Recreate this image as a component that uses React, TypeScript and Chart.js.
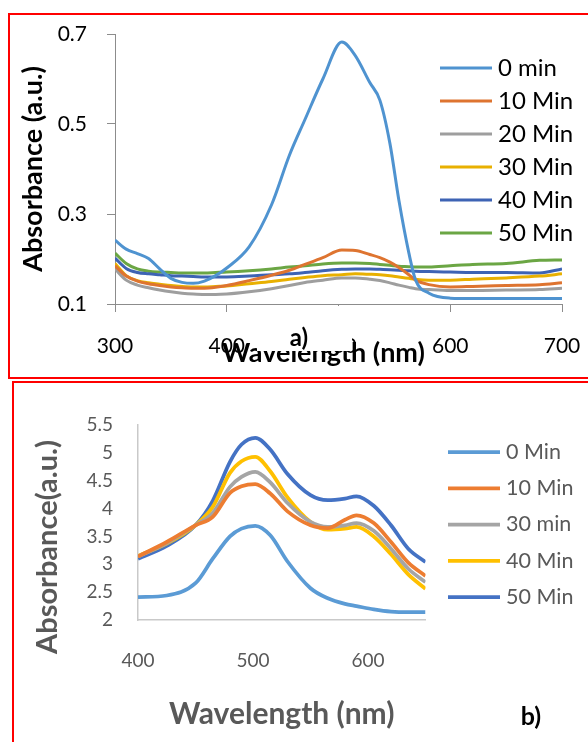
import React, { useEffect, useRef } from 'react';
import { Chart, registerables } from 'chart.js';

Chart.register(...registerables);

// ---------- Panel a) data ----------
const wavelengthsA = [300, 310, 320, 330, 340, 350, 360, 370, 380, 390, 400, 420, 440, 456, 470, 486, 503, 515, 528, 537, 546, 554, 563, 569, 581, 600, 620, 650, 680, 700];
const a0min = [0.242, 0.222, 0.212, 0.201, 0.178, 0.157, 0.148, 0.146, 0.151, 0.163, 0.18, 0.227, 0.32, 0.43, 0.51, 0.6, 0.682, 0.652, 0.592, 0.553, 0.457, 0.331, 0.213, 0.153, 0.124, 0.113, 0.112, 0.112, 0.112, 0.112];
const a10min = [0.185, 0.162, 0.151, 0.145, 0.141, 0.138, 0.136, 0.135, 0.135, 0.137, 0.141, 0.152, 0.164, 0.175, 0.188, 0.203, 0.22, 0.219, 0.21, 0.203, 0.193, 0.181, 0.165, 0.153, 0.143, 0.138, 0.139, 0.141, 0.143, 0.147];
const a20min = [0.178, 0.153, 0.142, 0.136, 0.131, 0.127, 0.124, 0.122, 0.121, 0.121, 0.122, 0.127, 0.134, 0.141, 0.148, 0.153, 0.158, 0.158, 0.155, 0.152, 0.147, 0.142, 0.137, 0.134, 0.132, 0.13, 0.13, 0.131, 0.132, 0.135];
const a30min = [0.19, 0.163, 0.152, 0.147, 0.144, 0.141, 0.139, 0.138, 0.138, 0.139, 0.14, 0.145, 0.15, 0.155, 0.159, 0.163, 0.165, 0.167, 0.166, 0.165, 0.163, 0.16, 0.157, 0.155, 0.153, 0.153, 0.155, 0.158, 0.162, 0.167];
const a40min = [0.202, 0.179, 0.17, 0.167, 0.165, 0.163, 0.162, 0.161, 0.16, 0.16, 0.16, 0.162, 0.165, 0.167, 0.17, 0.174, 0.177, 0.178, 0.178, 0.177, 0.176, 0.175, 0.174, 0.173, 0.172, 0.171, 0.17, 0.17, 0.169, 0.178];
const a50min = [0.213, 0.19, 0.178, 0.173, 0.171, 0.17, 0.169, 0.169, 0.169, 0.17, 0.171, 0.174, 0.178, 0.182, 0.185, 0.189, 0.191, 0.191, 0.19, 0.188, 0.186, 0.184, 0.183, 0.182, 0.182, 0.185, 0.188, 0.19, 0.197, 0.198];
const labelsA = ['0 min', '10 Min', '20 Min', '30 Min', '40 Min', '50 Min'];
const valuesA = [a0min, a10min, a20min, a30min, a40min, a50min];
const xTicksA = [300, 400, 500, 600, 700];
const yTicksA = [0.1, 0.3, 0.5, 0.7];

// ---------- Panel b) data ----------
const wavelengthsB = [400, 425, 450, 465, 480, 490, 502, 515, 530, 550, 565, 580, 590, 605, 620, 635, 650];
const b0min = [2.41, 2.44, 2.66, 3.1, 3.5, 3.64, 3.69, 3.52, 3.05, 2.57, 2.39, 2.29, 2.25, 2.19, 2.15, 2.14, 2.14];
const b10min = [3.14, 3.4, 3.7, 3.85, 4.28, 4.4, 4.44, 4.27, 3.95, 3.7, 3.65, 3.8, 3.88, 3.74, 3.4, 3.03, 2.79];
const b30min = [3.14, 3.38, 3.7, 3.92, 4.39, 4.57, 4.66, 4.47, 4.1, 3.76, 3.67, 3.7, 3.74, 3.6, 3.28, 2.92, 2.68];
const b40min = [3.15, 3.37, 3.7, 4.03, 4.64, 4.85, 4.93, 4.67, 4.2, 3.76, 3.62, 3.64, 3.67, 3.5, 3.18, 2.82, 2.56];
const b50min = [3.1, 3.33, 3.7, 4.14, 4.84, 5.15, 5.27, 5.06, 4.62, 4.24, 4.15, 4.18, 4.22, 4.05, 3.7, 3.28, 3.04];
const labelsB = ['0 Min', '10 Min', '30 min', '40 Min', '50 Min'];
const valuesB = [b0min, b10min, b30min, b40min, b50min];
const xTicksB = [400, 500, 600];
const yTicksB = [2, 2.5, 3, 3.5, 4, 4.5, 5, 5.5];

// ---------- styles ----------
const FONT = 'Lato, "Open Sans", sans-serif';
const colorsA = ['#4F93D0', '#DE7430', '#9E9E9E', '#E8B000', '#3D63B4', '#6BA644'];
const colorsB = ['#5B9BD5', '#ED7D31', '#A5A5A5', '#FFC000', '#4472C4'];
const AXIS_A = '#8C8C8C';
const AXIS_B = '#C9C9C9';
const GRAY_TXT = '#595959';

type Op =
  | { kind: 'text'; text: string; x: number; y: number; size: number; weight?: string; color: string; rotate?: number; baseline?: CanvasTextBaseline; align?: CanvasTextAlign }
  | { kind: 'rect'; x: number; y: number; w: number; h: number; color: string };

function makeOverlay(ops: Op[]) {
  return {
    id: 'overlay',
    afterDraw(chart: any) {
      const ctx = chart.ctx as CanvasRenderingContext2D;
      ops.forEach((op) => {
        ctx.save();
        if (op.kind === 'rect') {
          ctx.fillStyle = op.color;
          ctx.fillRect(op.x, op.y, op.w, op.h);
        } else {
          ctx.translate(op.x, op.y);
          if (op.rotate) ctx.rotate(op.rotate);
          ctx.font = `${op.weight || 'normal'} ${op.size}px ${FONT}`;
          ctx.fillStyle = op.color;
          ctx.textAlign = op.align || 'center';
          ctx.textBaseline = op.baseline || 'middle';
          ctx.fillText(op.text, 0, 0);
        }
        ctx.restore();
      });
    },
  };
}

function makeLegend(cfg: { x0: number; x1: number; tx: number; y0: number; dy: number; size: number; color: string; lineWidth: number }) {
  return {
    id: 'sideLegend',
    afterDraw(chart: any) {
      const ctx = chart.ctx as CanvasRenderingContext2D;
      ctx.save();
      chart.data.datasets.forEach((ds: any, i: number) => {
        const y = cfg.y0 + i * cfg.dy;
        ctx.strokeStyle = ds.borderColor;
        ctx.lineWidth = cfg.lineWidth;
        ctx.lineCap = 'butt';
        ctx.beginPath();
        ctx.moveTo(cfg.x0, y);
        ctx.lineTo(cfg.x1, y);
        ctx.stroke();
        ctx.font = `normal ${cfg.size}px ${FONT}`;
        ctx.fillStyle = cfg.color;
        ctx.textAlign = 'left';
        ctx.textBaseline = 'middle';
        ctx.fillText(ds.label, cfg.tx, y);
      });
      ctx.restore();
    },
  };
}

function configA(): any {
  const axisGrid = { display: true, drawOnChartArea: false, drawTicks: true, tickLength: 8, color: AXIS_A, lineWidth: 1 };
  const axisBorder = { display: true, color: AXIS_A, width: 1 };
  return {
    type: 'line',
    data: {
      datasets: valuesA.map((vals, k) => ({
        label: labelsA[k],
        data: wavelengthsA.map((x, i) => ({ x, y: vals[i] })),
        borderColor: colorsA[k],
        backgroundColor: colorsA[k],
        borderWidth: 3,
        pointRadius: 0,
        cubicInterpolationMode: 'monotone',
        fill: false,
      })),
    },
    options: {
      responsive: false,
      animation: false,
      devicePixelRatio: 1,
      layout: { padding: { left: 0, top: 34, right: 26, bottom: 0 } },
      plugins: { legend: { display: false }, tooltip: { enabled: false }, title: { display: false } },
      scales: {
        x: {
          type: 'linear',
          min: 300,
          max: 700,
          afterBuildTicks: (s: any) => { s.ticks = xTicksA.map((v) => ({ value: v })); },
          afterFit: (s: any) => { s.height = 76; s.paddingLeft = 0; s.paddingRight = 0; },
          grid: axisGrid,
          border: axisBorder,
          ticks: { font: { family: FONT, size: 21 }, color: '#000', padding: 22, maxRotation: 0, autoSkip: false, callback: (v: any) => String(v) },
        },
        y: {
          type: 'linear',
          min: 0.1,
          max: 0.7,
          afterBuildTicks: (s: any) => { s.ticks = yTicksA.map((v) => ({ value: v })); },
          afterFit: (s: any) => { s.width = 115; s.paddingTop = 0; s.paddingBottom = 0; },
          grid: axisGrid,
          border: axisBorder,
          ticks: { font: { family: FONT, size: 21 }, color: '#000', padding: 20, callback: (v: any) => Number(v).toFixed(1) },
          title: { display: true, text: 'Absorbance (a.u.)', font: { family: FONT, size: 27, weight: 'bold' }, color: '#000', padding: { top: 17, bottom: 0 } },
        },
      },
    },
    plugins: [
      makeOverlay([
        { kind: 'text', text: 'Wavelength (nm)', x: 323.5, y: 362, size: 27, weight: 'bold', color: '#000', baseline: 'alphabetic' },
        { kind: 'rect', x: 257, y: 306, w: 95, h: 45, color: '#FFFFFF' },
        { kind: 'text', text: 'a)', x: 299, y: 338, size: 24, weight: 'bold', color: '#000' },
      ]),
      makeLegend({ x0: 440, x1: 492, tx: 498, y0: 68, dy: 33, size: 24, color: '#000', lineWidth: 3 }),
    ],
  };
}

function configB(): any {
  return {
    type: 'line',
    data: {
      datasets: valuesB.map((vals, k) => ({
        label: labelsB[k],
        data: wavelengthsB.map((x, i) => ({ x, y: vals[i] })),
        borderColor: colorsB[k],
        backgroundColor: colorsB[k],
        borderWidth: 3.75,
        pointRadius: 0,
        cubicInterpolationMode: 'monotone',
        fill: false,
      })),
    },
    options: {
      responsive: false,
      animation: false,
      devicePixelRatio: 1,
      layout: { padding: { left: 0, top: 45, right: 162.5, bottom: 0 } },
      plugins: { legend: { display: false }, tooltip: { enabled: false }, title: { display: false } },
      scales: {
        x: {
          type: 'linear',
          min: 400,
          max: 650,
          afterBuildTicks: (s: any) => { s.ticks = xTicksB.map((v) => ({ value: v })); },
          afterFit: (s: any) => { s.height = 122; s.paddingLeft = 0; s.paddingRight = 0; },
          grid: { display: false, drawTicks: false },
          border: { display: true, color: AXIS_B, width: 1.5 },
          ticks: { font: { family: FONT, size: 19 }, color: GRAY_TXT, padding: 29.5, maxRotation: 0, autoSkip: false, callback: (v: any) => String(v) },
          title: { display: true, text: 'Wavelength (nm)', font: { family: FONT, size: 30, weight: 'bold' }, color: GRAY_TXT, padding: { top: 0, bottom: 10 } },
        },
        y: {
          type: 'linear',
          min: 2,
          max: 5.5,
          afterBuildTicks: (s: any) => { s.ticks = yTicksB.map((v) => ({ value: v })); },
          afterFit: (s: any) => { s.width = 138; s.paddingTop = 0; s.paddingBottom = 0; },
          grid: { display: false, drawTicks: false },
          border: { display: true, color: AXIS_B, width: 1.5 },
          ticks: { font: { family: FONT, size: 19 }, color: GRAY_TXT, padding: 25, callback: (v: any) => String(v) },
        },
      },
    },
    plugins: [
      makeOverlay([
        { kind: 'text', text: 'Absorbance(a.u.)', x: 48, y: 167, size: 29, weight: 'bold', color: GRAY_TXT, rotate: -Math.PI / 2 },
        { kind: 'text', text: 'b)', x: 531, y: 337, size: 25, weight: 'bold', color: '#000' },
      ]),
      makeLegend({ x0: 448, x1: 500, tx: 506, y0: 72, dy: 36.25, size: 21.5, color: GRAY_TXT, lineWidth: 3.75 }),
    ],
  };
}

function ChartCanvas(props: { makeConfig: () => any; top: number; width: number; height: number }) {
  const ref = useRef<HTMLCanvasElement | null>(null);
  useEffect(() => {
    if (!ref.current) return;
    const chart = new Chart(ref.current, props.makeConfig());
    return () => chart.destroy();
  }, []);
  return (
    <canvas
      ref={ref}
      width={props.width}
      height={props.height}
      style={{ position: 'absolute', left: 0, top: props.top, width: props.width, height: props.height, display: 'block' }}
    />
  );
}

export default function App() {
  return (
    <div style={{ position: 'fixed', left: 0, top: 0, width: 588, height: 742, overflow: 'hidden', background: '#FFFFFF' }}>
      <ChartCanvas makeConfig={configA} top={0} width={588} height={380} />
      <ChartCanvas makeConfig={configB} top={380} width={588} height={362} />
      <div
        style={{
          position: 'absolute', left: 8, top: 13, width: 700, height: 366, boxSizing: 'border-box',
          borderTop: '2px solid #FF0000', borderLeft: '2px solid #FF0000', borderBottom: '2px solid #FF0000', pointerEvents: 'none',
        }}
      />
      <div
        style={{
          position: 'absolute', left: 12, top: 381, width: 700, height: 500, boxSizing: 'border-box',
          borderTop: '2px solid #FF0000', borderLeft: '2px solid #FF0000', pointerEvents: 'none',
        }}
      />
    </div>
  );
}
